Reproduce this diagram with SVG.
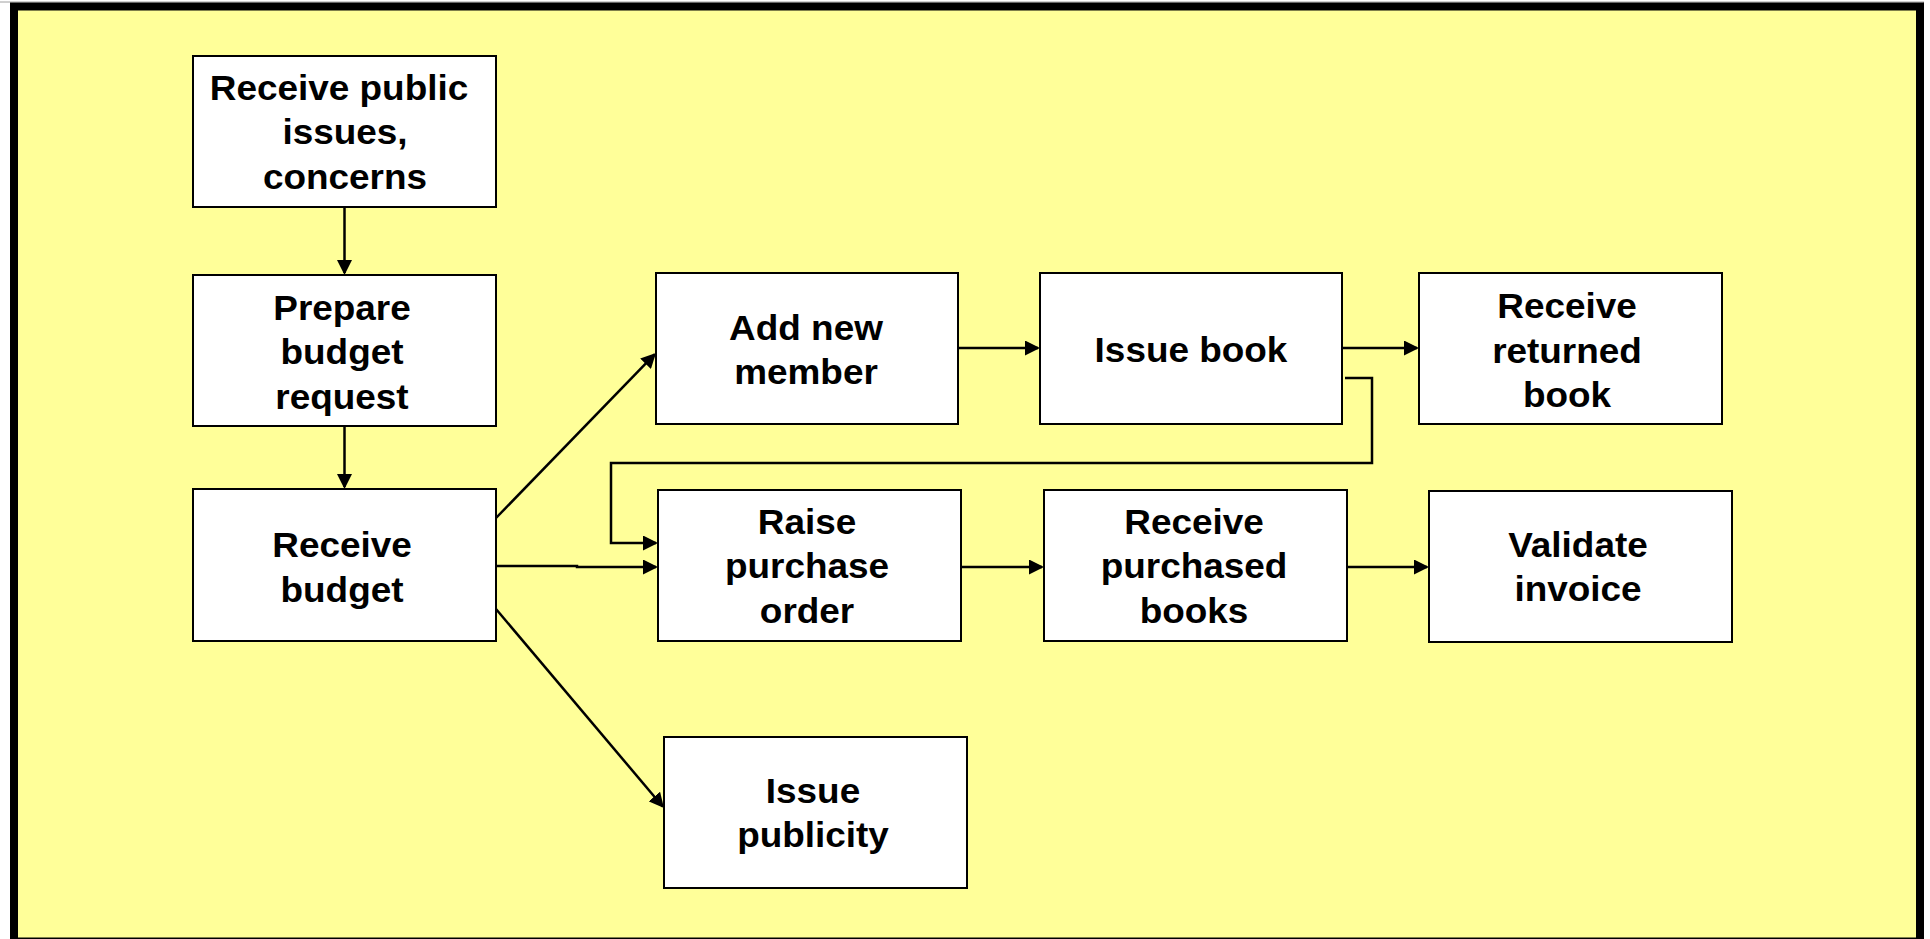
<svg xmlns="http://www.w3.org/2000/svg" width="1930" height="939" viewBox="0 0 1930 939">
  <style>
    .box { fill: #FFFFFF; stroke: #000000; stroke-width: 2; }
    .lbl { font-family: "Liberation Sans", Arial, sans-serif; font-weight: bold; font-size: 35.5px; fill: #000000; text-anchor: middle; }
    .conn { fill: none; stroke: #000000; stroke-width: 2.5; marker-end: url(#arrow); }
  </style>
  <defs>
    <marker id="arrow" viewBox="0 0 15 15" refX="13" refY="7.5" markerWidth="15" markerHeight="15" markerUnits="userSpaceOnUse" orient="auto">
      <path d="M0,0 L15,7.5 L0,15 Z" fill="#000000"/>
    </marker>
  </defs>
  <rect x="0" y="0" width="1930" height="939" fill="#FFFFFF"/>
  <line x1="0" y1="2" x2="1924" y2="2" stroke="#A0A0A0" stroke-width="1"/>
  <line x1="1923.5" y1="2" x2="1923.5" y2="939" stroke="#A0A0A0" stroke-width="1"/>
  <rect x="14" y="6.5" width="1906" height="935" fill="#FFFF99" stroke="#000000" stroke-width="8"/>

  <g id="connectors">
    <line class="conn" x1="344.5" y1="207" x2="344.5" y2="273"/>
    <line class="conn" x1="344.5" y1="426" x2="344.5" y2="487"/>
    <line class="conn" x1="496" y1="518" x2="654.6" y2="354.4"/>
    <polyline class="conn" points="496,566 577,566 577,567 656,567"/>
    <line class="conn" x1="496" y1="609" x2="662.7" y2="806.5"/>
    <polyline class="conn" points="1345,378 1372,378 1372,463 611,463 611,543 656,543"/>
    <line class="conn" x1="958" y1="348" x2="1038" y2="348"/>
    <line class="conn" x1="1342" y1="348" x2="1417" y2="348"/>
    <line class="conn" x1="961" y1="567" x2="1042" y2="567"/>
    <line class="conn" x1="1347" y1="567" x2="1427" y2="567"/>
  </g>

  <g id="receive-public-issues">
    <rect class="box" x="193" y="56" width="303" height="151"/>
    <text class="lbl" transform="translate(339 0) scale(1.04 1)"><tspan x="0" y="100">Receive public</tspan></text>
    <text class="lbl" transform="translate(345 0) scale(1.04 1)"><tspan x="0" y="144.5">issues,</tspan><tspan x="0" y="189">concerns</tspan></text>
  </g>
  <g id="prepare-budget-request">
    <rect class="box" x="193" y="275" width="303" height="151"/>
    <text class="lbl" transform="translate(342 0) scale(1.04 1)"><tspan x="0" y="320">Prepare</tspan><tspan x="0" y="364">budget</tspan><tspan x="0" y="409">request</tspan></text>
  </g>
  <g id="receive-budget">
    <rect class="box" x="193" y="489" width="303" height="152"/>
    <text class="lbl" transform="translate(342 0) scale(1.04 1)"><tspan x="0" y="557">Receive</tspan><tspan x="0" y="602">budget</tspan></text>
  </g>
  <g id="add-new-member">
    <rect class="box" x="656" y="273" width="302" height="151"/>
    <text class="lbl" transform="translate(806 0) scale(1.04 1)"><tspan x="0" y="340">Add new</tspan><tspan x="0" y="384">member</tspan></text>
  </g>
  <g id="issue-book">
    <rect class="box" x="1040" y="273" width="302" height="151"/>
    <text class="lbl" transform="translate(1191 0) scale(1.04 1)"><tspan x="0" y="362">Issue book</tspan></text>
  </g>
  <g id="receive-returned-book">
    <rect class="box" x="1419" y="273" width="303" height="151"/>
    <text class="lbl" transform="translate(1567 0) scale(1.04 1)"><tspan x="0" y="318">Receive</tspan><tspan x="0" y="363">returned</tspan><tspan x="0" y="407">book</tspan></text>
  </g>
  <g id="raise-purchase-order">
    <rect class="box" x="658" y="490" width="303" height="151"/>
    <text class="lbl" transform="translate(807 0) scale(1.04 1)"><tspan x="0" y="534">Raise</tspan><tspan x="0" y="578">purchase</tspan><tspan x="0" y="623">order</tspan></text>
  </g>
  <g id="receive-purchased-books">
    <rect class="box" x="1044" y="490" width="303" height="151"/>
    <text class="lbl" transform="translate(1194 0) scale(1.04 1)"><tspan x="0" y="534">Receive</tspan><tspan x="0" y="578">purchased</tspan><tspan x="0" y="623">books</tspan></text>
  </g>
  <g id="validate-invoice">
    <rect class="box" x="1429" y="491" width="303" height="151"/>
    <text class="lbl" transform="translate(1578 0) scale(1.04 1)"><tspan x="0" y="557">Validate</tspan><tspan x="0" y="601">invoice</tspan></text>
  </g>
  <g id="issue-publicity">
    <rect class="box" x="664" y="737" width="303" height="151"/>
    <text class="lbl" transform="translate(813 0) scale(1.04 1)"><tspan x="0" y="803">Issue</tspan><tspan x="0" y="847">publicity</tspan></text>
  </g>
</svg>
